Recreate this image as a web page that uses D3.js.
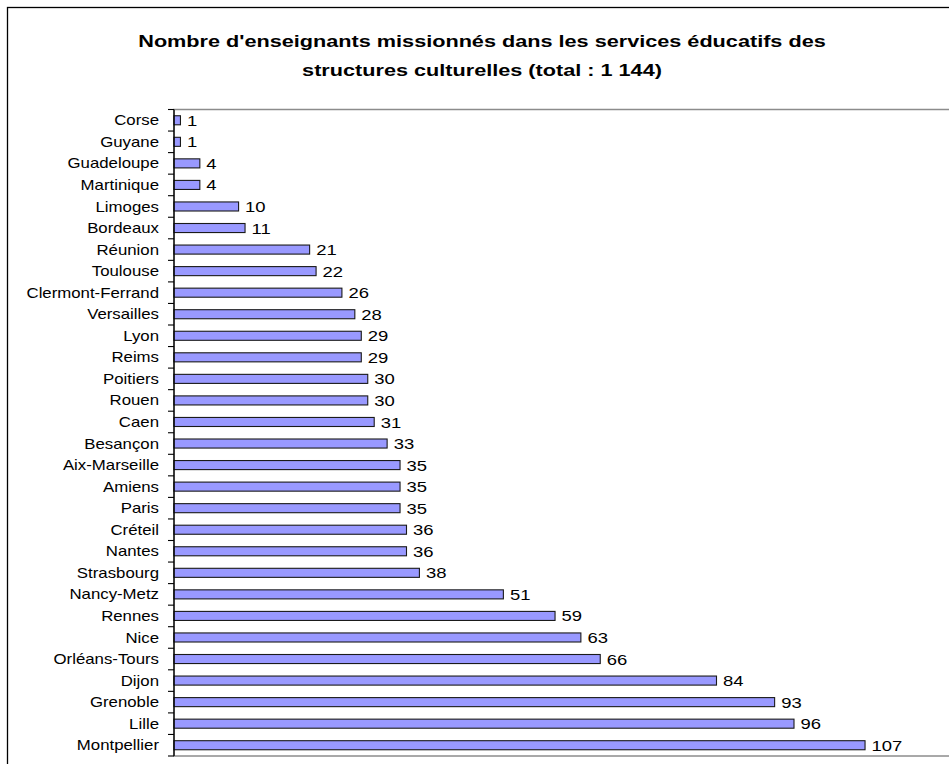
<!DOCTYPE html>
<html>
<head>
<meta charset="utf-8">
<script src="https://cdn.jsdelivr.net/npm/d3@7"></script>
<style>
  html, body { margin: 0; padding: 0; background: #fff; }
  svg { display: block; }
</style>
</head>
<body>
<svg id="chart" width="949" height="764"></svg>
<script>
// Académies, top to bottom
const categories = [
  "Corse", "Guyane", "Guadeloupe", "Martinique", "Limoges", "Bordeaux",
  "Réunion", "Toulouse", "Clermont-Ferrand", "Versailles", "Lyon", "Reims",
  "Poitiers", "Rouen", "Caen", "Besançon", "Aix-Marseille", "Amiens",
  "Paris", "Créteil", "Nantes", "Strasbourg", "Nancy-Metz", "Rennes",
  "Nice", "Orléans-Tours", "Dijon", "Grenoble", "Lille", "Montpellier"
];
const values = [
  1, 1, 4, 4, 10, 11,
  21, 22, 26, 28, 29, 29,
  30, 30, 31, 33, 35, 35,
  35, 36, 36, 38, 51, 59,
  63, 66, 84, 93, 96, 107
];
const titleLines = [
  "Nombre d'enseignants missionnés dans les services éducatifs des",
  "structures culturelles (total : 1 144)"
];

const svg = d3.select("#chart");
const W = 949, H = 764;
const plot = { left: 174, top: 109.5, right: 949, bottom: 756 };
const FONT = "Liberation Sans, Arial, sans-serif";
// Text is drawn slightly widened, as in the exported chart
const TITLE_STRETCH = 1.26, LABEL_STRETCH = 1.2;

// Outer chart frame (runs past the right and bottom edges)
svg.append("rect")
  .attr("x", 7.5).attr("y", 7.5)
  .attr("width", W + 10).attr("height", H + 10)
  .attr("fill", "#fff").attr("stroke", "#000").attr("stroke-width", 1.3);

// Title
svg.append("g").selectAll("text").data(titleLines).join("text")
  .attr("transform", (d, i) => `translate(482,${47 + i * 28.5}) scale(${TITLE_STRETCH},1)`)
  .attr("text-anchor", "middle")
  .attr("font-family", FONT)
  .attr("font-weight", "bold")
  .attr("font-size", 17.2)
  .attr("fill", "#000")
  .text(d => d);

const x = d3.scaleLinear().domain([0, 120]).range([plot.left, plot.right]);
const y = d3.scaleBand().domain(categories).range([plot.top, plot.bottom]).paddingInner(0.58).paddingOuter(0.29);

// Plot area border (grey)
svg.append("rect")
  .attr("x", plot.left).attr("y", plot.top)
  .attr("width", plot.right - plot.left + 5).attr("height", plot.bottom - plot.top)
  .attr("fill", "none").attr("stroke", "#8c8c8c").attr("stroke-width", 1.5);

// Bars
svg.append("g").selectAll("rect").data(values).join("rect")
  .attr("x", x(0))
  .attr("y", (d, i) => y(categories[i]))
  .attr("width", d => x(d) - x(0))
  .attr("height", y.bandwidth())
  .attr("fill", "#9999ff")
  .attr("stroke", "#1a1a1a")
  .attr("stroke-width", 1.1);

// Value labels
svg.append("g").selectAll("text").data(values).join("text")
  .attr("transform", (d, i) => `translate(${x(d) + 6.5},${y(categories[i]) + y.bandwidth() / 2}) scale(${LABEL_STRETCH},1)`)
  .attr("dy", "0.36em")
  .attr("font-family", FONT)
  .attr("font-size", 15.4)
  .attr("fill", "#000")
  .text(d => d);

// Category axis
const step = (plot.bottom - plot.top) / categories.length;
const axisG = svg.append("g");
axisG.append("line")
  .attr("x1", plot.left).attr("x2", plot.left)
  .attr("y1", plot.top).attr("y2", plot.bottom)
  .attr("stroke", "#000").attr("stroke-width", 1.3);
axisG.selectAll("line.tick").data(d3.range(categories.length + 1)).join("line")
  .attr("class", "tick")
  .attr("x1", plot.left - 6).attr("x2", plot.left)
  .attr("y1", i => plot.top + i * step).attr("y2", i => plot.top + i * step)
  .attr("stroke", "#000").attr("stroke-width", 1.1);
axisG.selectAll("text").data(categories).join("text")
  .attr("transform", d => `translate(${plot.left - 15},${y(d) + y.bandwidth() / 2}) scale(${LABEL_STRETCH},1)`)
  .attr("dy", "0.36em")
  .attr("text-anchor", "end")
  .attr("font-family", FONT)
  .attr("font-size", 14)
  .attr("fill", "#000")
  .text(d => d);
</script>
</body>
</html>
